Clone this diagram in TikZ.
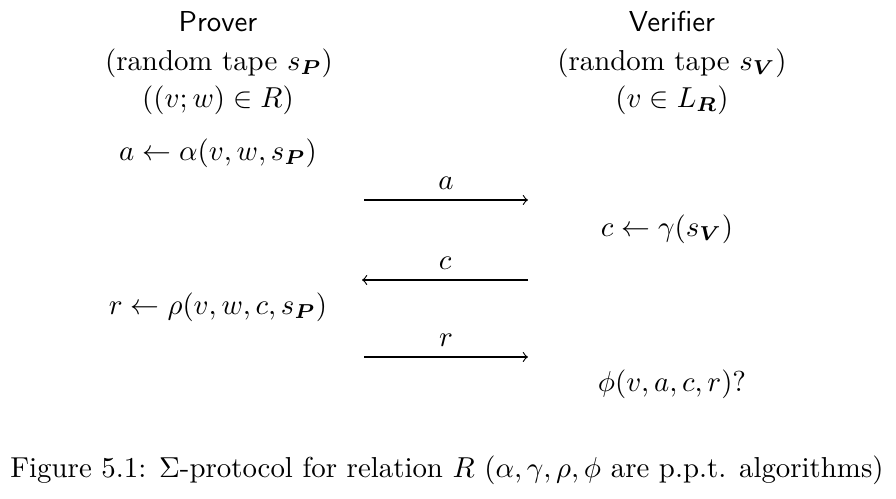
\documentclass[tikz,border=0pt]{standalone}
\usepackage{amsmath}
\usetikzlibrary{positioning}

\tikzset{
  party/.style={font=\sffamily, inner sep=1pt},
  step txt/.style={inner sep=1pt},
  msg/.style={->, thin},
}

\begin{document}
\begin{tikzpicture}[x=0.3467pt, y=-0.3467pt]
\useasboundingbox (0,0) rectangle (896,499);

% prover column
\node[party]    (P)  at (218,22)  {Prover};
\node[step txt] (Pt) at (219,63)  {(random tape $s_{\boldsymbol{P}}$)};
\node[step txt] (Pw) at (218,100) {($(v;w)\in R$)};
\node[step txt] (Pa) at (218,153) {$a\leftarrow\alpha(v,w,s_{\boldsymbol{P}})$};
\node[step txt] (Pr) at (218,307) {$r\leftarrow\rho(v,w,c,s_{\boldsymbol{P}})$};

% verifier column
\node[party]    (V)  at (672,22)  {Verifier};
\node[step txt] (Vt) at (672,63)  {(random tape $s_{\boldsymbol{V}}$)};
\node[step txt] (Vl) at (672,100) {($v\in L_{\boldsymbol{R}}$)};
\node[step txt] (Vc) at (667,229) {$c\leftarrow\gamma(s_{\boldsymbol{V}})$};
\node[step txt] (Vf) at (672,384) {$\phi(v,a,c,r)?$};

% messages
\coordinate (aL) at (364,200);
\coordinate (aR) at (528,200);
\coordinate (cL) at (362,280);
\coordinate (cR) at (528,280);
\coordinate (rL) at (364,357);
\coordinate (rR) at (528,357);

\draw[msg] (aL) -- node[above] (ma) {$a$} (aR);
\draw[msg] (cR) -- node[above] (mc) {$c$} (cL);
\draw[msg] (rL) -- node[above] (mr) {$r$} (rR);

\node (cap) at (447,470) {Figure 5.1: $\Sigma$-protocol for relation $R$ ($\alpha,\gamma,\rho,\phi$ are p.p.t. algorithms)};
\end{tikzpicture}
\end{document}
